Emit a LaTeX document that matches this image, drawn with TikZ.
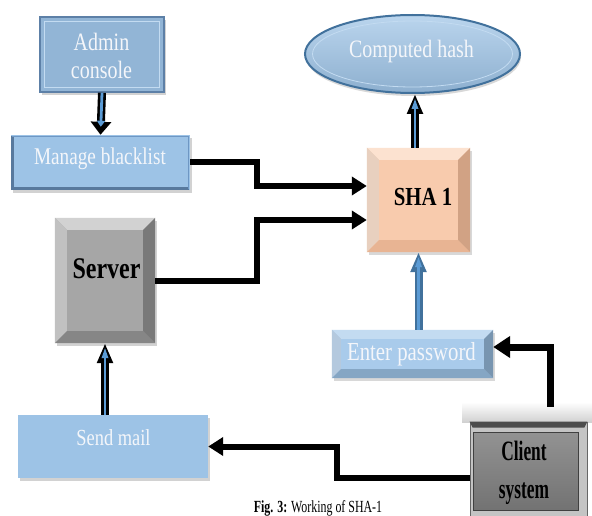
\documentclass[tikz,border=0pt]{standalone}
\usepackage{fontspec}
\setmainfont[FakeStretch=0.8]{Liberation Serif}
\newfontfamily\clientfont[FakeStretch=0.62]{Liberation Serif}
\newfontfamily\captionfont[FakeStretch=0.7]{Liberation Serif}
\usetikzlibrary{arrows.meta,shapes.geometric,shadows}
\definecolor{boxblue}{HTML}{9DC3E6}
\definecolor{boxblueL}{HTML}{C3DBF1}
\definecolor{boxblueD}{HTML}{6E97C4}
\definecolor{enterblue}{HTML}{A9CBEB}
\definecolor{peach}{HTML}{F8CBAD}
\definecolor{peachL}{HTML}{FCE2D0}
\definecolor{peachD}{HTML}{E8B493}
\definecolor{srvgrey}{HTML}{A6A6A6}
\definecolor{srvgreyL}{HTML}{D2D2D2}
\definecolor{srvgreyD}{HTML}{868686}
\definecolor{clientgrey}{HTML}{7F7F7F}
\definecolor{framegrey}{HTML}{C4C4C4}
\definecolor{arrowblue}{HTML}{5B9BD5}
\definecolor{edgeblue}{HTML}{41719C}
\definecolor{textwhite}{HTML}{F4F6FA}
\newcommand\bevelbox[4]{%
  \fill[#3] (#1.north west) -- (#1.north east) -- ([shift={(-#2,-#2)}]#1.north east) -- ([shift={(#2,-#2)}]#1.north west) -- cycle;
  \fill[#3!92!black] (#1.north west) -- ([shift={(#2,-#2)}]#1.north west) -- ([shift={(#2,#2)}]#1.south west) -- (#1.south west) -- cycle;
  \fill[#4] (#1.south west) -- ([shift={(#2,#2)}]#1.south west) -- ([shift={(-#2,#2)}]#1.south east) -- (#1.south east) -- cycle;
  \fill[#4!90!black] (#1.north east) -- (#1.south east) -- ([shift={(-#2,#2)}]#1.south east) -- ([shift={(-#2,-#2)}]#1.north east) -- cycle;
}
\tikzset{
  boxbase/.style={rectangle, inner sep=0pt},
  bluebox/.style={boxbase, fill=boxblue, drop shadow={opacity=0.35, shadow xshift=2pt, shadow yshift=-3pt}},
  whitetext/.style={text=textwhite, font=\fontsize{24}{28}\selectfont, inner sep=0pt},
  blacktext/.style={text=black, font=\bfseries\fontsize{30}{32}\selectfont, inner sep=0pt},
  blk/.style={line width=6pt, black, -{Triangle[length=15pt,width=18pt]}},
  dblout/.style={line width=8pt, black, -{Triangle[length=20pt,width=15pt]}},
  dblin/.style={line width=2.8pt, arrowblue, -{Triangle[length=11pt,width=6pt]}, shorten >=4pt},
}
\begin{document}
\begin{tikzpicture}[x=1pt,y=-1pt]
\useasboundingbox[fill=white] (0,0) rectangle (592,516);

% boxes
\node[bluebox, fill=boxblue!93!black, draw=boxblueD!85!black, line width=1.5pt, minimum width=124pt, minimum height=75pt] (admin) at (102,54.5) {};
\draw[boxblueL, line width=0.8pt] ([shift={(5pt,-5pt)}]admin.north west) rectangle ([shift={(-5pt,5pt)}]admin.south east);
\node[bluebox, minimum width=179pt, minimum height=55pt] (manage) at (100.5,162.5) {};
\draw[boxblueD!80!black, line width=3pt] ([shift={(1.5pt,-1.5pt)}]manage.north west) -- ([shift={(1.5pt,1.5pt)}]manage.south west) -- ([shift={(-1.5pt,1.5pt)}]manage.south east);
\draw[boxblueD, line width=1.5pt] ([shift={(1.5pt,-1.5pt)}]manage.north west) -- ([shift={(-1.5pt,-1.5pt)}]manage.north east) -- ([shift={(-1.5pt,1.5pt)}]manage.south east);

\node[ellipse, inner sep=0pt, minimum width=215pt, minimum height=78pt, top color=boxblue!70!white, bottom color=boxblue!90!black, draw=edgeblue, line width=2pt, drop shadow={opacity=0.3, shadow xshift=1pt, shadow yshift=-3pt}] (hash) at (412.5,54) {};
\node[ellipse, inner sep=0pt, minimum width=200pt, minimum height=66pt, draw=boxblueL, line width=0.8pt] (hashring) at (412.5,54) {};

\node[boxbase, fill=peach, minimum width=103pt, minimum height=104pt, drop shadow={opacity=0.3, shadow xshift=2pt, shadow yshift=-3pt}] (sha) at (418.5,200) {};
\bevelbox{sha}{12pt}{peachL}{peachD}

\node[boxbase, fill=srvgrey, minimum width=100pt, minimum height=125pt, drop shadow={opacity=0.35, shadow xshift=2pt, shadow yshift=-3pt}] (server) at (105,280.5) {};
\bevelbox{server}{12pt}{srvgreyL}{srvgreyD}

\node[boxbase, fill=enterblue, minimum width=161pt, minimum height=48pt, drop shadow={opacity=0.3, shadow xshift=2pt, shadow yshift=-3pt}] (enter) at (412.5,354) {};
\bevelbox{enter}{9pt}{boxblueL}{boxblue!85!black}

\node[bluebox, minimum width=190pt, minimum height=63pt] (sendmail) at (113,446.5) {};

\shade[top color=white, bottom color=black!18] (462,402) rectangle (592,422);
\node[boxbase, fill=framegrey, draw=black!60, line width=0.6pt, minimum width=117pt, minimum height=94pt] (client) at (528.5,469) {};
\fill[black!70] (client.north west) -- (client.north east) -- ([shift={(-3pt,-6pt)}]client.north east) -- ([shift={(3pt,-6pt)}]client.north west) -- cycle;
\shade[top color=clientgrey!85!white, bottom color=clientgrey!90!black] ([shift={(4pt,-11pt)}]client.north west) rectangle ([shift={(-9pt,6pt)}]client.south east);
\draw[black!75, line width=1pt] ([shift={(4pt,-11pt)}]client.north west) rectangle ([shift={(-9pt,6pt)}]client.south east);

% texts
\node[whitetext, align=center, font=\fontsize{25}{28}\selectfont] (admintext) at (101.5,55.5) {Admin\\console};
\node[whitetext, anchor=base] (managetext) at (100,165) {Manage blacklist};
\node[whitetext, anchor=base, font=\fontsize{25}{28}\selectfont] (hashtext) at (411.5,58) {Computed hash};
\node[blacktext, anchor=base, font=\bfseries\fontsize{26}{28}\selectfont] (shatext) at (423,205) {SHA 1};
\node[blacktext, anchor=base] (servertext) at (106.5,278) {Server};
\node[whitetext, anchor=base, font=\fontsize{26}{28}\selectfont] (entertext) at (411.5,360) {Enter password};
\node[whitetext, anchor=base, font=\fontsize{23}{28}\selectfont] (sendtext) at (113.5,445) {Send mail};
\node[text=black, inner sep=0pt, align=center, font=\clientfont\bfseries\fontsize{28}{38}\selectfont] (clienttext) at (524,472.5) {Client\\system};
\node[anchor=base, inner sep=0pt, font=\captionfont\fontsize{17}{19}\selectfont] (caption) at (318,512) {\textbf{Fig. 3:} Working of SHA-1};

% black connectors
\draw[blk] (manage.east) -- ++(67,0) |- ([yshift=14pt]sha.west);
\draw[blk] (server.east) -- ++(102,0) |- ([yshift=-20pt]sha.west);
\draw[blk, line width=7pt, -{Triangle[length=17pt,width=21pt]}] ([xshift=21.5pt,yshift=15pt]client.north) |- ([yshift=7pt]enter.east);
\draw[blk] ([yshift=-9pt]client.west) -- ++(-133,0) |- (sendmail.east);

% double (blue) arrows
\draw[dblout, -{Triangle[length=13pt,width=20pt]}] (admin.south) -- (manage.north);
\draw[dblin, -{Triangle[length=6pt,width=8pt]}, shorten >=8pt] (admin.south) -- (manage.north);
\draw[dblout] ([xshift=-3.5pt]sha.north) -- ([xshift=-3.5pt]sha.north |- hash.south);
\draw[dblin] ([xshift=-3.5pt]sha.north) -- ([xshift=-3.5pt]sha.north |- hash.south);
\draw[dblout, edgeblue] (enter.north -| sha.south) -- (sha.south);
\draw[dblin] (enter.north -| sha.south) -- (sha.south);
\draw[dblout] (sendmail.north -| server.south) -- (server.south);
\draw[dblin] (sendmail.north -| server.south) -- (server.south);
\end{tikzpicture}
\end{document}
